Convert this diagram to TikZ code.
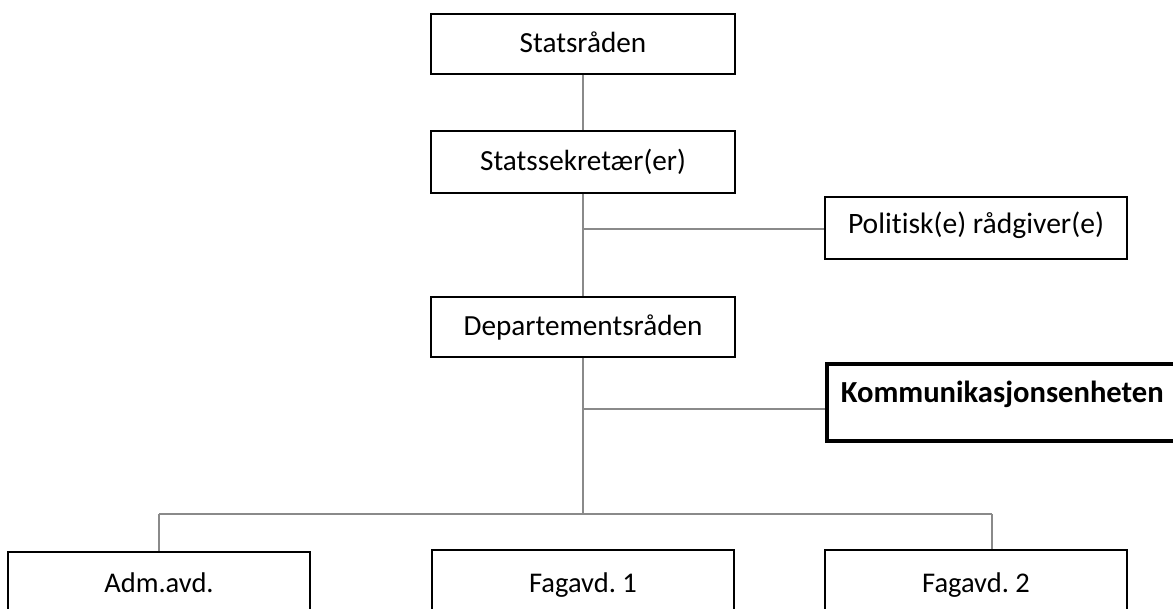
\documentclass[tikz,border=0pt]{standalone}
\usepackage{fontspec}
\setmainfont{Carlito}[Ligatures=NoCommon]
\frenchspacing
\begin{document}
\begin{tikzpicture}[x=1pt,y=-1pt,
  box/.style={draw=black, line width=1.6pt, fill=white, minimum width=304pt, inner sep=0pt, text height=21pt, text depth=5pt, font=\fontsize{29.2}{32}\selectfont},
  pbox/.style={box, minimum width=302pt, text height=21pt, text depth=10pt, font=\fontsize{29.6}{32}\selectfont},
  kbox/.style={draw=black, line width=3.6pt, fill=white, inner ysep=0pt, inner xsep=14pt, text width=330pt, align=left, minimum height=77pt, text height=21pt, text depth=20pt, font=\fontsize{30.6}{34}\selectfont\bfseries},
  conn/.style={draw=black!46, line width=1.6pt}]
\useasboundingbox (0,0) rectangle (1173,608);
\clip (0,0) rectangle (1173,608);
\node[box, minimum height=60pt] (sr) at (583,44) {Statsråden};
\node[box, minimum height=62pt] (ss) at (583,162) {Statssekretær(er)};
\node[pbox, minimum height=62pt] (pol) at (976,228) {Politisk(e) rådgiver(e)};
\node[box, minimum height=60pt] (dep) at (583,327) {Departementsråden};
\node[kbox, anchor=north west] (kom) at (825,362) {Kommunikasjonsenheten};
\node[box, minimum width=302pt, minimum height=64pt, font=\fontsize{28.5}{32}\selectfont] (adm) at (159,584) {Adm.avd.};
\node[box, minimum width=302pt, minimum height=68pt, font=\fontsize{28.5}{32}\selectfont] (f1) at (583,584) {Fagavd. 1};
\node[box, minimum width=302pt, minimum height=68pt, font=\fontsize{28.5}{32}\selectfont] (f2) at (976,584) {Fagavd. 2};
\coordinate (j1) at (583,229);
\coordinate (j2) at (583,409);
\coordinate (j3) at (583,514);
\coordinate (jl) at (159,514);
\coordinate (jr) at (992,514);
\draw[conn] (sr.south) -- (ss.north);
\draw[conn] (ss.south) -- (dep.north);
\draw[conn] (j1) -- (pol.west |- j1);
\draw[conn] (dep.south) -- (j3);
\draw[conn] (j2) -- (kom.west |- j2);
\draw[conn] (jl) -- (jr);
\draw[conn] (jl) -- (adm.north);
\draw[conn] (jr) -- (jr |- f2.north);
\end{tikzpicture}
\end{document}
